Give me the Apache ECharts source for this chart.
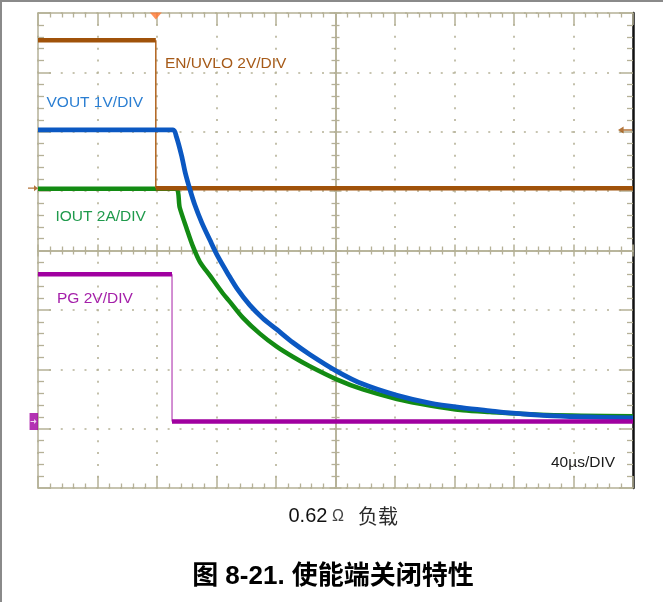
<!DOCTYPE html>
<html>
<head>
<meta charset="utf-8">
<script src="https://cdn.jsdelivr.net/npm/echarts@6/dist/echarts.min.js"></script>
<style>
html,body{margin:0;padding:0;background:#fff;}
#c{width:663px;height:602px;}
</style>
</head>
<body>
<div id="c"></div>
<script>
// ---- axis ranges: time in µs (40 µs/DIV, trigger at 0), vertical in screen divisions ----
const timeMin = -80, timeMax = 320, timeStep = 40;
const divMin = -4, divMax = 4, divStep = 1;

// ---- EN/UVLO (2 V/DIV), screen divisions ----
const enTimes = [-80, -0.8, -0.8, 320];
const enDivs  = [3.54, 3.54, 1.05, 1.05];

// ---- PG (2 V/DIV) ----
const pgTimes = [-80, 10.1, 10.1, 320];
const pgDivs  = [-0.40, -0.40, -2.88, -2.88];

// ---- VOUT (1 V/DIV) ----
const voutTimes = [-80, 10.8, 13.0, 16.5, 19.0, 22.0, 25.4, 30.1, 35.5, 40.9, 47.6, 54.3, 62.4, 71.1, 80.5, 91.3, 102.7, 120.7, 138.4, 161.3, 183.5, 205.7, 223.8, 239.3, 262.2, 284.3, 320];
const voutDivs  = [2.03, 2.03, 1.92, 1.60, 1.31, 1.04, 0.77, 0.47, 0.18, -0.10, -0.39, -0.66, -0.92, -1.14, -1.33, -1.55, -1.75, -2.03, -2.25, -2.44, -2.57, -2.65, -2.70, -2.74, -2.78, -2.80, -2.82];

// ---- IOUT (2 A/DIV) ----
const ioutTimes = [-80, 12.3, 15.3, 19.8, 24.3, 28.8, 35.5, 44.2, 48.9, 57.7, 69.1, 80.5, 91.3, 102.7, 120.7, 138.4, 161.3, 183.5, 205.7, 223.8, 262.2, 320];
const ioutDivs  = [1.04, 1.04, 0.72, 0.38, 0.06, -0.19, -0.42, -0.72, -0.86, -1.13, -1.40, -1.62, -1.79, -1.95, -2.17, -2.34, -2.50, -2.61, -2.69, -2.72, -2.77, -2.79];

// ---- markers ----
const triggerTime = -0.8;
const enGroundDiv = 1.05;
const triggerLevelDiv = 2.03;
const pgGroundDiv = -2.88;

// ---- texts ----
const labelEN = 'EN/UVLO 2V/DIV';
const labelVOUT = 'VOUT 1V/DIV';
const labelIOUT = 'IOUT 2A/DIV';
const labelPG = 'PG 2V/DIV';
const labelTime = '40\u00b5s/DIV';
const captionValue = '0.62';
const captionOhm = '\u03a9';
const captionLoad = '负载';
const figureTitle = '图 8-21. 使能端关闭特性';

// ---------------------------------------------------------------
const OLIVE = '#b5b197';
const pairs = (ts, vs) => ts.map((t, i) => [t, vs[i]]);
const stepThick = (ts, vs) => [[ts[0], vs[0]], [ts[1], vs[1]], [null, null], [ts[2], vs[2]], [ts[3], vs[3]]];
const stepEdge = (ts, vs) => [[ts[1], vs[1]], [ts[2], vs[2]]];

function borderAxis(dim, pos, major, minor, lineColor, lineWidth, split, dash) {
  const isX = dim === 'x';
  return {
    type: 'value', gridIndex: 0, position: pos,
    min: isX ? timeMin : divMin, max: isX ? timeMax : divMax, interval: isX ? timeStep : divStep,
    axisLine: { show: true, onZero: false, lineStyle: { color: lineColor, width: lineWidth } },
    axisTick: { show: true, inside: true, length: major, lineStyle: { color: OLIVE, width: 1.5 } },
    minorTick: { show: true, splitNumber: 5, length: minor, lineStyle: { color: OLIVE, width: 1.3 } },
    axisLabel: { show: false },
    splitLine: split ? { show: true, lineStyle: { color: OLIVE, width: 1.6, type: dash, dashOffset: 1 } } : { show: false },
    minorSplitLine: { show: false }
  };
}
function centerAxis(dim, pos) {
  const isX = dim === 'x';
  return {
    type: 'value', gridIndex: 1, position: pos,
    min: isX ? -5 : -4, max: isX ? 5 : 4, interval: 1,
    axisLine: { show: true, onZero: true, lineStyle: { color: OLIVE, width: 1.5 } },
    axisTick: { show: true, inside: false, length: 6, lineStyle: { color: OLIVE, width: 1.5 } },
    minorTick: { show: true, splitNumber: 5, length: 4, lineStyle: { color: OLIVE, width: 1.3 } },
    axisLabel: { show: false },
    splitLine: { show: false }
  };
}

const txt = (text, x, y, font, fill, align) => ({
  type: 'text', z: 100,
  style: { text, x, y, font, fill, align: align || 'left', textAlign: align || 'left', verticalAlign: 'middle', textVerticalAlign: 'middle' }
});

const LABEL_FONT = "15.5px 'Liberation Sans', Arial, sans-serif";

const option = {
  animation: false,
  backgroundColor: '#fff',
  grid: [
    { left: 38, top: 13, width: 595, height: 475, outerBoundsMode: 'none', containLabel: false },
    { left: 38, top: 13, width: 595, height: 475, outerBoundsMode: 'none', containLabel: false }
  ],
  xAxis: [
    borderAxis('x', 'bottom', 12, 4.5, OLIVE, 1.5, true, [2, 9.894]),
    borderAxis('x', 'top', 12, 4.5, OLIVE, 1.5, false),
    centerAxis('x', 'bottom'),
    centerAxis('x', 'top')
  ],
  yAxis: [
    borderAxis('y', 'left', 13, 6, OLIVE, 1.5, true, [2, 9.875]),
    borderAxis('y', 'right', 13, 6, '#111', 2.5, false),
    centerAxis('y', 'left'),
    centerAxis('y', 'right')
  ],
  series: [
    { name: 'IOUT', type: 'line', xAxisIndex: 0, yAxisIndex: 0, data: pairs(ioutTimes, ioutDivs), smooth: 0.3,
      showSymbol: false, lineStyle: { color: '#138b13', width: 4.5 }, z: 3 },
    { name: 'EN edge', type: 'line', xAxisIndex: 0, yAxisIndex: 0, data: stepEdge(enTimes, enDivs),
      showSymbol: false, lineStyle: { color: '#b0621c', width: 1.5 }, z: 4 },
    { name: 'EN/UVLO', type: 'line', xAxisIndex: 0, yAxisIndex: 0, data: stepThick(enTimes, enDivs),
      connectNulls: false, showSymbol: false, lineStyle: { color: '#a0520a', width: 4.5 }, z: 4 },
    { name: 'VOUT', type: 'line', xAxisIndex: 0, yAxisIndex: 0, data: pairs(voutTimes, voutDivs), smooth: 0.3,
      showSymbol: false, lineStyle: { color: '#0b58c2', width: 4.8 }, z: 5 },
    { name: 'PG edge', type: 'line', xAxisIndex: 0, yAxisIndex: 0, data: stepEdge(pgTimes, pgDivs),
      showSymbol: false, lineStyle: { color: '#c46ac4', width: 1.5 }, z: 6 },
    { name: 'PG', type: 'line', xAxisIndex: 0, yAxisIndex: 0, data: stepThick(pgTimes, pgDivs),
      connectNulls: false, showSymbol: false, lineStyle: { color: '#a000a0', width: 4.5 }, z: 6 },
    { name: 'trigger', type: 'scatter', xAxisIndex: 0, yAxisIndex: 0, clip: false, z: 10,
      data: [[triggerTime, divMax]], symbol: 'triangle', symbolRotate: 180, symbolSize: [12, 7], symbolOffset: [0, 3],
      itemStyle: { color: '#ff7530' } },
    { name: 'en ground', type: 'scatter', xAxisIndex: 0, yAxisIndex: 0, clip: false, z: 10,
      data: [[timeMin, enGroundDiv]], symbol: 'path://M0,4L6,4L6,0L10,5L6,10L6,6L0,6Z', symbolSize: [10, 6], symbolOffset: [-5, 0],
      itemStyle: { color: '#a0520a' } },
    { name: 'trigger level', type: 'scatter', xAxisIndex: 0, yAxisIndex: 0, clip: false, z: 10,
      data: [[timeMax, triggerLevelDiv]], symbol: 'path://M10,4L4,4L4,0L0,5L4,10L4,6L10,6Z', symbolSize: [14, 7], symbolOffset: [-8, 0],
      itemStyle: { color: '#a0520a' } },
    { name: 'pg ground', type: 'scatter', xAxisIndex: 0, yAxisIndex: 0, clip: false, z: 10,
      data: [[timeMin, pgGroundDiv]], symbol: 'rect', symbolSize: [8.5, 17], symbolOffset: [-4.2, 0],
      itemStyle: { color: '#a000a0' } },
    { name: 'pg ground arrow', type: 'scatter', xAxisIndex: 0, yAxisIndex: 0, clip: false, z: 11,
      data: [[timeMin, pgGroundDiv]], symbol: 'path://M0,4L6,4L6,0L10,5L6,10L6,6L0,6Z', symbolSize: [6, 5], symbolOffset: [-4.5, 0],
      itemStyle: { color: '#ffffff' } }
  ],
  graphic: [
    { type: 'line', z: 100, shape: { x1: 0, y1: 1, x2: 663, y2: 1 }, style: { stroke: '#8a8a8a', lineWidth: 2 } },
    { type: 'line', z: 100, shape: { x1: 1, y1: 0, x2: 1, y2: 602 }, style: { stroke: '#8a8a8a', lineWidth: 2 } },
    txt(labelEN, 165, 63.5, LABEL_FONT, '#a65a18'),
    txt(labelVOUT, 46.5, 102.5, LABEL_FONT, '#2a7ed2'),
    txt(labelIOUT, 55.5, 217, LABEL_FONT, '#1f9a4c'),
    txt(labelPG, 57, 298.5, LABEL_FONT, '#a41fa9'),
    txt(labelTime, 551, 463, LABEL_FONT, '#1a1a1a'),
    txt(captionValue, 288.5, 516.5, "20px 'Liberation Sans', Arial, sans-serif", '#111'),
    txt(captionOhm, 332, 517, "16px 'Liberation Sans', Arial, sans-serif", '#444'),
    txt(captionLoad, 358, 516.5, "20px 'Noto Sans CJK SC', sans-serif", '#2a2a2a'),
    txt(figureTitle, 333, 577, "bold 26px 'Liberation Sans', 'Noto Sans CJK SC', sans-serif", '#000', 'center')
  ]
};

const chart = echarts.init(document.getElementById('c'), null, { renderer: 'canvas' });
chart.setOption(option);
</script>
</body>
</html>
